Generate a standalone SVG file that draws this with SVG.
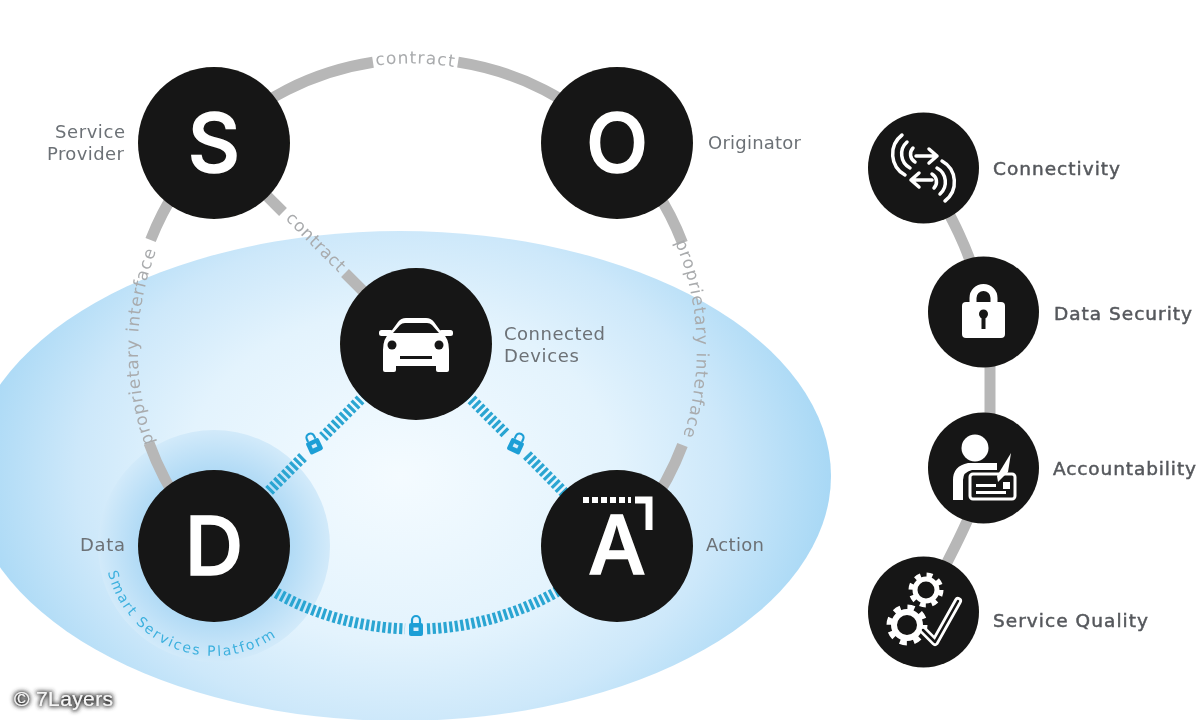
<svg xmlns="http://www.w3.org/2000/svg" width="1200" height="720" viewBox="0 0 1200 720">
<style>
.bg{fill:#fff}
.n{fill:#161513}
.g{fill:none;stroke:#b7b7b7;stroke-width:11}
.b{fill:none;stroke:#2aa5d2;stroke-width:11;stroke-dasharray:3.2 2.4}
.w{fill:#fff}
.ws{fill:none;stroke:#fff;stroke-linecap:round;stroke-linejoin:round}
.d{fill:#161513}
.big{font-family:Inter,"Liberation Sans",sans-serif;font-weight:500;font-size:81px;fill:#fff;stroke:#fff;stroke-width:1.6;text-anchor:middle}
.lab{font-family:"DejaVu Sans",sans-serif;font-size:18px;fill:#6c7176}
.rl{font-family:"DejaVu Sans",sans-serif;font-size:18.5px;fill:#55585c;stroke:#55585c;stroke-width:.5}
.cv{font-family:"DejaVu Sans",sans-serif;font-size:17px;fill:#a9abad}
.sm{font-family:"DejaVu Sans",sans-serif;font-size:14px;fill:#3cb0de;letter-spacing:1.9px}
.lk{fill:#1f9fd6}
</style>
<defs>
<radialGradient id="ell" gradientUnits="userSpaceOnUse" cx="0" cy="0" r="1" gradientTransform="translate(400 476) scale(431 330)">
<stop offset="0" stop-color="#f4fbff"/><stop offset=".5" stop-color="#e3f3fd"/><stop offset=".75" stop-color="#cde8fa"/><stop offset="1" stop-color="#a8d8f5"/>
</radialGradient>
<radialGradient id="glow" cx=".5" cy=".5" r=".5">
<stop offset=".62" stop-color="#aed9f5"/><stop offset="1" stop-color="#d2eafa"/>
</radialGradient>
<filter id="soft" x="-2%" y="-2%" width="104%" height="104%"><feGaussianBlur stdDeviation=".55"/></filter>
<filter id="halo" x="-20%" y="-40%" width="140%" height="180%"><feMorphology in="SourceAlpha" operator="dilate" radius="1" result="m"/><feGaussianBlur in="m" stdDeviation="2" result="s"/><feFlood flood-color="#333"/><feComposite in2="s" operator="in"/><feMerge><feMergeNode/><feMergeNode in="SourceGraphic"/></feMerge></filter>
<g id="smallLock">
<rect class="lk" x="-7" y="-3" width="14" height="13" rx="2"/>
<path d="M-4 -3V-6a4 4 0 0 1 8 0V-3" fill="none" stroke="#1f9fd6" stroke-width="2.200"/>
<rect x="-2.500" y="1.500" width="5" height="3.500" fill="#d8eefb"/>
</g>
<path id="pTop" d="M376 65.500A279 279 0 0 1 460 68"/>
<path id="pLeft" d="M154 443A276 276 0 0 1 159 244"/>
<path id="pRight" d="M675 242A279 279 0 0 1 680 445"/>
<path id="pDiag" d="M285 219L350 284"/>
<path id="pSmart" d="M108 572A109 109 0 0 0 300 614"/>
</defs>
<rect class="bg" width="1200" height="720"/>
<g filter="url(#soft)">
<ellipse id="platform" cx="400" cy="476" rx="431" ry="245" fill="url(#ell)"/>
<circle id="platform-glow" cx="214" cy="546" r="116" fill="url(#glow)"/>

<g id="connectors">
<path class="g" d="M214 143A285 285 0 0 1 373 62.300"/>
<path class="g" d="M458 62.100A285 285 0 0 1 617 143"/>
<path class="g" d="M214 143A285 285 0 0 0 150.600 240"/>
<path class="g" d="M149 443A285 285 0 0 0 214 546"/>
<path class="g" d="M617 143A285 285 0 0 1 682.500 243"/>
<path class="g" d="M682.500 445A285 285 0 0 1 617 546"/>
<path class="g" d="M214 143L283 212"/>
<path class="g" d="M345 273L416 344"/>
<path class="b" d="M416 344L323 437"/>
<path class="b" d="M303 457L214 546"/>
<path class="b" d="M416 344L507 435"/>
<path class="b" d="M527 455L617 546"/>
<path class="b" d="M214 546A285 285 0 0 0 405 628.800"/>
<path class="b" d="M427 628.800A285 285 0 0 0 617 546"/>
<use href="#smallLock" transform="translate(313 443) rotate(-25)"/>
<use href="#smallLock" transform="translate(517 443) rotate(25)"/>
<use href="#smallLock" transform="translate(416 626)"/>
<path class="g" d="M923 168C945 205 975 255 984 312"/>
<path class="g" d="M990 312V468"/>
<path class="g" d="M984 468C975 520 940 570 923 612"/>
</g>

<text class="cv"><textPath href="#pTop" textLength="78">contract</textPath></text>
<text class="cv"><textPath href="#pLeft" textLength="196">proprietary interface</textPath></text>
<text class="cv"><textPath href="#pRight" textLength="198">proprietary interface</textPath></text>
<text class="cv"><textPath href="#pDiag" textLength="76">contract</textPath></text>
<text class="sm"><textPath href="#pSmart">Smart Services Platform</textPath></text>

<g id="node-s">
<circle class="n" cx="214" cy="143" r="76"/>
<text class="big" x="214" y="172">S</text>
<text class="lab" x="55" y="138" textLength="70">Service</text>
<text class="lab" x="47" y="160" textLength="77">Provider</text>
</g>
<g id="node-o">
<circle class="n" cx="617" cy="143" r="76"/>
<text class="big" x="617" y="172">O</text>
<text class="lab" x="708" y="149" textLength="93">Originator</text>
</g>
<g id="node-car">
<circle class="n" cx="416" cy="344" r="76"/>
<path class="w" d="M383 350Q383 338 390 333L398 322Q401 318 406 318H426Q431 318 434 322L442 333Q449 338 449 350V366H383Z"/>
<rect class="w" x="379" y="330" width="14" height="6" rx="2.500"/>
<rect class="w" x="439" y="330" width="14" height="6" rx="2.500"/>
<rect class="w" x="383" y="360" width="13" height="12" rx="2"/>
<rect class="w" x="436" y="360" width="13" height="12" rx="2"/>
<path class="d" d="M393 333L400 325Q402 323 405 323H427Q430 323 432 325L439 333Z"/>
<circle class="d" cx="392" cy="345" r="4.500"/>
<circle class="d" cx="439" cy="345" r="4.500"/>
<rect class="d" x="400" y="356" width="32" height="3"/>
<text class="lab" x="504" y="340" textLength="101">Connected</text>
<text class="lab" x="504" y="362" textLength="75">Devices</text>
</g>
<g id="node-d">
<circle class="n" cx="214" cy="546" r="76"/>
<text class="big" x="214" y="575">D</text>
<text class="lab" x="80" y="551" textLength="45">Data</text>
</g>
<g id="node-a">
<circle class="n" cx="617" cy="546" r="76"/>
<text class="big" x="617" y="574">A</text>
<path d="M583 500H631" stroke="#fff" stroke-width="6" stroke-dasharray="6 3" fill="none"/>
<path d="M635 500H649V530" stroke="#fff" stroke-width="7" fill="none"/>
<text class="lab" x="706" y="551" textLength="58">Action</text>
</g>

<g id="node-connectivity">
<circle class="n" cx="923.500" cy="168" r="55.500"/>
<g class="ws" stroke-width="3.500">
<path d="M902 135A24 24 0 0 0 905 175"/>
<path d="M907 142A16 16 0 0 0 910 168"/>
<path d="M913 148A9 9 0 0 0 915 162"/>
<path d="M945 201A24 24 0 0 0 942 161"/>
<path d="M940 194A16 16 0 0 0 937 168"/>
<path d="M934 188A9 9 0 0 0 932 174"/>
<path d="M916 156H937M929 149L937 156L929 163"/>
<path d="M932 180H911M919 173L911 180L919 187"/>
</g>
<text class="rl" x="993" y="175" textLength="127">Connectivity</text>
</g>
<g id="node-security">
<circle class="n" cx="983.500" cy="312" r="55.500"/>
<path class="ws" stroke-width="7" d="M973 304V298a10.500 10.500 0 0 1 21 0V304"/>
<rect class="w" x="962" y="302" width="43" height="36" rx="4"/>
<circle class="d" cx="983.500" cy="314" r="4.500"/>
<rect class="d" x="981.500" y="315" width="4" height="14"/>
<text class="rl" x="1054" y="320" textLength="138">Data Security</text>
</g>
<g id="node-accountability">
<circle class="n" cx="983.500" cy="468" r="55.500"/>
<circle class="w" cx="975" cy="448" r="13.500"/>
<path class="w" d="M953 500V480Q953 466 968 463H997V470H972Q963 472 963 480V500Z"/>
<rect x="970" y="474" width="45" height="25" rx="3" fill="none" stroke="#fff" stroke-width="3"/>
<rect class="w" x="976" y="484" width="20" height="3"/>
<rect class="w" x="976" y="491" width="30" height="3"/>
<rect class="w" x="1003" y="482" width="7" height="7"/>
<path class="w" d="M1011 453L1008 472L998 482L997 476Z"/>
<text class="rl" x="1053" y="475" textLength="143">Accountability</text>
</g>
<g id="node-quality">
<circle class="n" cx="923.500" cy="612" r="55.500"/>
<g fill="none" stroke="#fff">
<circle cx="926" cy="590" r="11" stroke-width="5"/>
<circle cx="926" cy="590" r="15" stroke-width="5" stroke-dasharray="5.900 5.900"/>
<circle cx="907" cy="625" r="13" stroke-width="6"/>
<circle cx="907" cy="625" r="17.500" stroke-width="6" stroke-dasharray="6.900 6.830"/>
</g>
<path d="M923 630L935 642L958 601" class="ws" stroke-width="8"/>
<path d="M923 630L935 642L958 601" fill="none" stroke="#161513" stroke-width="2.500" stroke-linecap="round" stroke-linejoin="round"/>
<text class="rl" x="993" y="627" textLength="155">Service Quality</text>
</g>
<text id="credit" x="14" y="706" font-family="Liberation Sans, sans-serif" font-size="21" fill="#f6f6f6" filter="url(#halo)" textLength="99">© 7Layers</text>
</g>
</svg>
